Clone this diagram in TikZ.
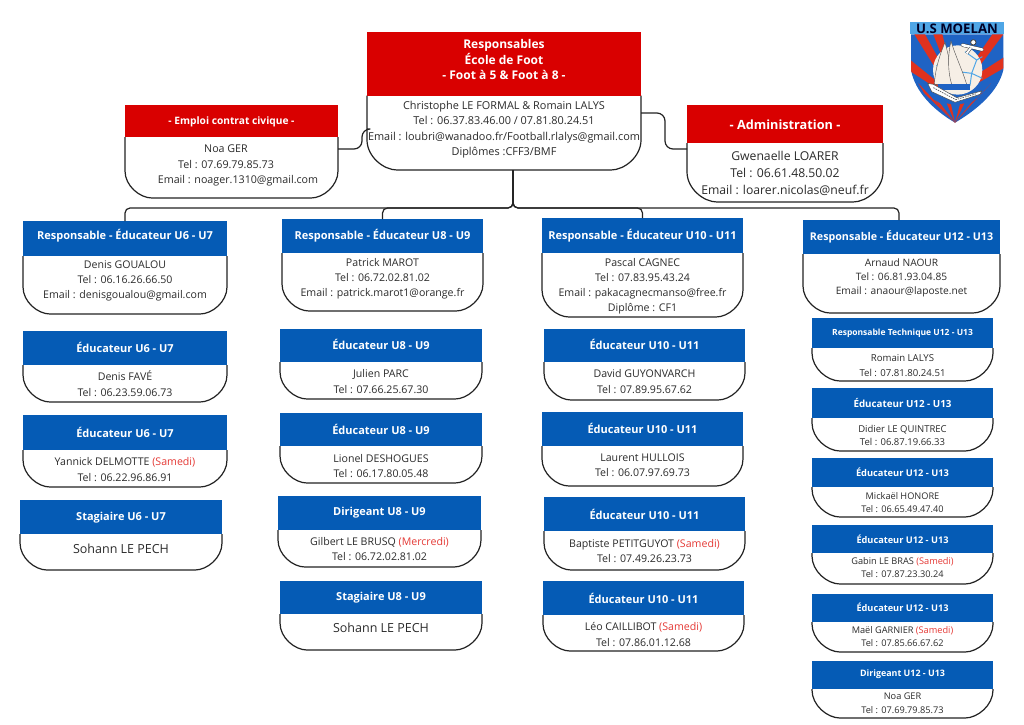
\documentclass[tikz,border=0pt]{standalone}
\usepackage{fontspec}
\setmainfont{Open Sans}
\usetikzlibrary{calc}
\definecolor{hred}{HTML}{D90000}
\definecolor{hblue}{HTML}{055BB5}
\definecolor{ink}{HTML}{2B2B2B}
\definecolor{edge}{HTML}{222222}
\definecolor{sam}{HTML}{E53935}
\definecolor{lsky}{HTML}{4FA6E6}
\definecolor{lblue}{HTML}{1F63C4}
\definecolor{lred}{HTML}{E0321E}
\definecolor{lcream}{HTML}{F6EFE6}
\tikzset{
  conn/.style={draw=edge,line width=1.2pt,line join=round},
  anchorbox/.style={inner sep=0pt,outer sep=0pt},
  bodyline/.style={draw=edge,line width=1.2pt,fill=white},
  titletext/.style={text=white,align=center,inner sep=0pt,yshift=-.6pt},
  bodytext/.style={text=ink,align=center,inner sep=0pt,yshift=-.8pt},
}
\newcommand{\sm}[1]{\textcolor{sam}{#1}}
% name x1 x2 ytop ysplit ybot radius colour
\newcommand{\cardbox}[8]{%
  \pgfmathsetmacro{\cw}{#3-#2}\pgfmathsetmacro{\ch}{#6-#4}%
  \pgfmathsetmacro{\cmx}{(#2+#3)/2}\pgfmathsetmacro{\cmy}{(#4+#6)/2}%
  \pgfmathsetmacro{\rry}{min(#7,#6-#5)}%
  \draw[bodyline] (#2,#5) -- (#2,#6-\rry) .. controls (#2,#6-.45*\rry) and (#2+.55*#7,#6) .. (#2+#7,#6)
     -- (#3-#7,#6) .. controls (#3-.55*#7,#6) and (#3,#6-.45*\rry) .. (#3,#6-\rry) -- (#3,#5);
  \fill[#8] (#2-.2,#4) rectangle (#3+.2,#5);
  \node[anchorbox,minimum width=\cw pt,minimum height=\ch pt] (#1) at (\cmx,\cmy) {};
}
% name ytitle ybody titlesize bodysize leading title body
\newcommand{\cardtext}[8]{%
  \node[titletext,font=\fontsize{#4}{15.8}\selectfont\bfseries] (#1-t) at (#1.center |- 0,#2) {#7};
  \node[bodytext,font=\fontsize{#5}{#6}\selectfont] (#1-b) at (#1.center |- 0,#3) {#8};
}
\begin{document}
\begin{tikzpicture}[x=1pt,y=-1pt]
\useasboundingbox (0,0) rectangle (1024,724);
\fill[white] (0,0) rectangle (1024,724);

% ---------- top row
\cardbox{top}{367}{641}{32}{95.5}{170}{30}{hred}
\cardtext{top}{59}{129}{12}{10.9}{15.4}{Responsables\\École de Foot\\- Foot à 5 \& Foot à 8 -}{Christophe LE FORMAL \& Romain LALYS\\Tel : 06.37.83.46.00 / 07.81.80.24.51\\Email : loubri@wanadoo.fr/Football.rlalys@gmail.com\\Diplômes :CFF3/BMF}

\cardbox{emploi}{125}{338}{105}{137}{198}{27}{hred}
\cardtext{emploi}{121}{165}{10.2}{10.7}{15.4}{- Emploi contrat civique -}{\hspace*{-11pt}Noa GER\\\hspace*{-11pt}Tel : 07.69.79.85.73\\\hspace*{13pt}Email : noager.1310@gmail.com}

\cardbox{admin}{687}{883}{105}{143}{202}{30}{hred}
\cardtext{admin}{124}{173}{12.7}{12.2}{17}{- Administration -}{Gwenaelle LOARER\\Tel : 06.61.48.50.02\\Email : loarer.nicolas@neuf.fr}

% ---------- column 1
\cardbox{c1}{23}{227}{221}{256}{314}{27}{hblue}
\cardtext{c1}{235}{280}{11}{10.6}{15}{Responsable - Éducateur U6 - U7}{Denis GOUALOU\\Tel : 06.16.26.66.50\\Email : denisgoualou@gmail.com}
\cardbox{c1a}{23}{227}{331}{365}{402}{27}{hblue}
\cardtext{c1a}{347}{383}{11}{10.6}{15.5}{Éducateur U6 - U7}{Denis FAVÉ\\Tel : 06.23.59.06.73}
\cardbox{c1b}{23}{227}{415}{450}{487}{27}{hblue}
\cardtext{c1b}{432}{468.5}{11}{10.6}{15.5}{Éducateur U6 - U7}{Yannick DELMOTTE \sm{(Samedi)}\\Tel : 06.22.96.86.91}
\cardbox{c1c}{20}{222}{500}{534}{570}{27}{hblue}
\cardtext{c1c}{517}{548}{11}{12.5}{15.5}{Stagiaire U6 - U7}{Sohann LE PECH}

% ---------- column 2
\cardbox{c2}{282}{483}{219}{253}{311}{27}{hblue}
\cardtext{c2}{235}{278}{11}{10.6}{15}{Responsable - Éducateur U8 - U9}{Patrick MAROT\\Tel : 06.72.02.81.02\\Email : patrick.marot1@orange.fr}
\cardbox{c2a}{280}{482}{329}{362}{399}{27}{hblue}
\cardtext{c2a}{344}{380.5}{11}{10.6}{15.5}{Éducateur U8 - U9}{Julien PARC\\Tel : 07.66.25.67.30}
\cardbox{c2b}{280}{482}{413}{446}{483}{27}{hblue}
\cardtext{c2b}{429}{465}{11}{10.6}{15.5}{Éducateur U8 - U9}{Lionel DESHOGUES\\Tel : 06.17.80.05.48}
\cardbox{c2c}{278}{481}{496}{530}{567}{27}{hblue}
\cardtext{c2c}{512}{548}{11}{10.6}{15.5}{Dirigeant U8 - U9}{Gilbert LE BRUSQ \sm{(Mercredi)}\\Tel : 06.72.02.81.02}
\cardbox{c2d}{280}{482}{581}{614}{650}{27}{hblue}
\cardtext{c2d}{597}{627}{11}{12.5}{15.5}{Stagiaire U8 - U9}{Sohann LE PECH}

% ---------- column 3
\cardbox{c3}{542}{743}{218}{253}{317}{27}{hblue}
\cardtext{c3}{235}{285.5}{11}{10.6}{15}{Responsable - Éducateur U10 - U11}{Pascal CAGNEC\\Tel : 07.83.95.43.24\\Email : pakacagnecmanso@free.fr\\Diplôme : CF1}
\cardbox{c3a}{544}{745}{329}{362}{400}{27}{hblue}
\cardtext{c3a}{344}{380.5}{11}{10.6}{15.5}{Éducateur U10 - U11}{David GUYONVARCH\\Tel : 07.89.95.67.62}
\cardbox{c3b}{542}{743}{412}{446}{486}{27}{hblue}
\cardtext{c3b}{428}{464.5}{11}{10.6}{15.5}{Éducateur U10 - U11}{Laurent HULLOIS\\Tel : 06.07.97.69.73}
\cardbox{c3c}{544}{745}{497}{531}{570}{27}{hblue}
\cardtext{c3c}{514}{550}{11}{10.6}{15.5}{Éducateur U10 - U11}{Baptiste PETITGUYOT \sm{(Samedi)}\\Tel : 07.49.26.23.73}
\cardbox{c3d}{543}{744}{581}{615}{651}{27}{hblue}
\cardtext{c3d}{598}{633.5}{11}{10.6}{15.5}{Éducateur U10 - U11}{Léo CAILLIBOT \sm{(Samedi)}\\Tel : 07.86.01.12.68}

% ---------- column 4
\cardbox{c4}{803}{1000}{220}{254}{313}{27}{hblue}
\cardtext{c4}{236}{277}{10.7}{10.2}{14}{Responsable - Éducateur U12 - U13}{Arnaud NAOUR\\Tel : 06.81.93.04.85\\Email : anaour@laposte.net}
\cardbox{c4a}{812}{993}{318}{348}{381}{28}{hblue}
\cardtext{c4a}{333}{364.5}{8.5}{9.6}{15}{Responsable Technique U12 - U13}{Romain LALYS\\Tel : 07.81.80.24.51}
\cardbox{c4b}{812}{993}{388}{418}{451}{28}{hblue}
\cardtext{c4b}{402}{434.5}{9.8}{9.5}{13.4}{Éducateur U12 - U13}{Didier LE QUINTREC\\Tel : 06.87.19.66.33}
\cardbox{c4c}{812}{993}{458}{487}{517}{28}{hblue}
\cardtext{c4c}{472}{501.5}{9.3}{9.2}{13.2}{Éducateur U12 - U13}{Mickaël HONORE\\Tel : 06.65.49.47.40}
\cardbox{c4d}{812}{993}{525}{553}{584}{28}{hblue}
\cardtext{c4d}{539}{567}{9.2}{9.2}{12.6}{Éducateur U12 - U13}{Gabin LE BRAS \sm{(Samedi)}\\Tel : 07.87.23.30.24}
\cardbox{c4e}{812}{993}{594}{622}{652}{28}{hblue}
\cardtext{c4e}{607}{636}{9.2}{9.2}{12.6}{Éducateur U12 - U13}{Maël GARNIER \sm{(Samedi)}\\Tel : 07.85.66.67.62}
\cardbox{c4f}{812}{993}{661}{689}{718}{28}{hblue}
\cardtext{c4f}{674}{702.5}{8.9}{9.2}{13.4}{Dirigeant U12 - U13}{Noa GER\\Tel : 07.69.79.85.73}

% ---------- connectors
\coordinate (bus) at (513,208);
\coordinate (d4) at (899,220);
\draw[conn,rounded corners=5pt] (top.south -| bus) -- (bus) -| (c1.north);
\draw[conn,rounded corners=5pt] (top.south -| bus) -- (bus) -| (c2.north);
\draw[conn,rounded corners=5pt] (top.south -| bus) -- (bus) -| (c3.north);
\draw[conn,rounded corners=5pt] (top.south -| bus) -- (bus) -| (d4);
\draw[conn,rounded corners=8pt] ([yshift=2.5pt]emploi.east) -- ++(24,0) |- ([yshift=-28pt]top.west);
\draw[conn,rounded corners=8pt] ([yshift=-12pt]top.east) -- ++(24,0) |- ([yshift=4.5pt]admin.west);

% ---------- logo
\begin{scope}[shift={(905,15)},x=.3333pt,y=-.3333pt]
  \path[fill=lblue] (18,58) -- (295,58) -- (295,165) .. controls (280,230) and (215,285) .. (150,323) .. controls (85,285) and (30,230) .. (18,165) -- cycle;
  \begin{scope}
    \clip (18,58) -- (295,58) -- (295,165) .. controls (280,230) and (215,285) .. (150,323) .. controls (85,285) and (30,230) .. (18,165) -- cycle;
    \fill[lred] (28,58) -- (60,58) -- (125,175) -- (110,190) -- cycle;
    \fill[lred] (85,58) -- (112,58) -- (140,170) -- (130,175) -- cycle;
    \fill[lred] (295,58) -- (262,58) -- (185,170) -- (200,185) -- cycle;
    \fill[lred] (295,128) -- (295,160) -- (200,215) -- (190,195) -- cycle;
    \fill[lred] (10,130) -- (10,165) -- (110,230) -- (115,215) -- cycle;
    \fill[lred] (40,205) -- (58,235) -- (150,323) -- cycle;
    \fill[lred] (88,255) -- (105,265) -- (150,323) -- cycle;
    \fill[lred] (125,265) -- (138,268) -- (150,323) -- cycle;
    \fill[lred] (165,268) -- (178,265) -- (150,323) -- cycle;
    \fill[lred] (200,262) -- (215,250) -- (150,323) -- cycle;
    \fill[lred] (240,225) -- (258,205) -- (150,323) -- cycle;
  \end{scope}
  \fill[lsky] (16,22) rectangle (296,58);
  \node[anchorbox,text=black!85!blue,font=\fontsize{13.2}{14}\selectfont\bfseries] (logotext) at (156,41) {U.S MOELAN};
  % ball
  \fill[lcream] (158,165) circle (74);
  \draw[lsky,line width=1pt] (180,110) -- (215,135) -- (200,175) -- (160,170);
  \draw[lsky,line width=1pt] (215,135) -- (232,125) (200,175) -- (232,190) (200,175) -- (195,212);
  \draw[lsky,line width=1pt] (95,150) -- (112,185) -- (100,212);
  % sails
  \fill[lcream,draw=black!70,line width=.4pt] (120,82) .. controls (100,130) and (90,170) .. (88,208) -- (142,208) .. controls (140,160) and (130,120) .. (120,82) -- cycle;
  \fill[lcream,draw=black!70,line width=.4pt] (138,78) .. controls (128,120) and (128,170) .. (140,208) -- (185,208) .. controls (170,160) and (150,120) .. (138,78) -- cycle;
  % sea
  \fill[lblue] (100,208) -- (195,208) -- (195,225) -- (100,225) -- cycle;
  % anchor
  \draw[black!75,line width=3.6pt,line cap=round] (172,90) -- (232,104);
  \draw[white,line width=2.6pt,line cap=round] (172,90) -- (232,104);
  \draw[black!75,line width=.8pt,fill=white] (205,82) circle (8);
  \draw[black!75,line width=3pt] (198,98) -- (185,115);
  \draw[white,line width=2pt] (198,98) -- (185,115);
  % ribbon
  \fill[white,draw=black!70,line width=.5pt] (68,205) -- (80,230) -- (150,262) -- (225,238) -- (230,228) -- (155,248) -- (85,208) -- cycle;
  \draw[black!60,line width=.8pt,dash pattern=on 1.5pt off 1pt] (85,218) -- (152,254) -- (215,236);
\end{scope}
\end{tikzpicture}
\end{document}
